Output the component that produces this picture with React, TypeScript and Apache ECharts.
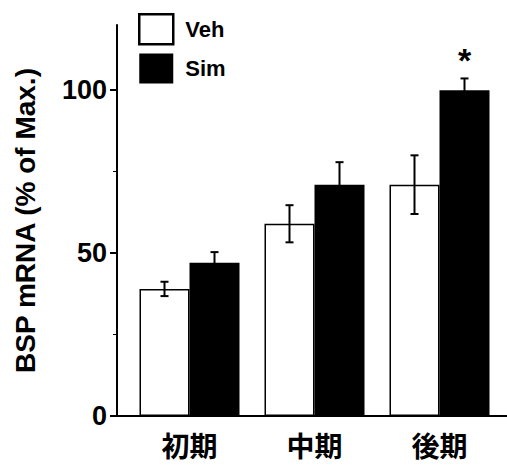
import React, { useEffect, useRef } from "react";
import * as echarts from "echarts";

const categories = ["初期", "中期", "後期"];
const vehMean = [39, 59, 71];
const vehErr = [2.2, 5.7, 9];
const simMean = [47, 71, 100];
const simErr = [3.3, 6.9, 3.6];
const significance = ["", "", "*"];
const yTickValues = [0, 50, 100];
const yMinorTickValues = [25, 75];

const LATIN = "'Liberation Sans', Arial, Helvetica, sans-serif";
const CJK = "'Noto Sans CJK JP', 'Noto Sans CJK SC', sans-serif";

export default function App() {
  const ref = useRef<HTMLDivElement>(null);
  useEffect(() => {
    if (!ref.current) return;
    const chart = echarts.init(ref.current, null, { renderer: "svg" });

    const errData: number[][] = [];
    categories.forEach((_, i) => {
      errData.push([i, vehMean[i], vehErr[i], -1]);
      errData.push([i, simMean[i], simErr[i], 1]);
    });

    const option: any = {
      animation: false,
      backgroundColor: "#ffffff",
      grid: { left: 127, right: 5, top: 25, bottom: 49, containLabel: false },
      legend: {
        orient: "vertical",
        left: 138,
        top: 13,
        padding: 0,
        itemWidth: 34,
        itemHeight: 30,
        itemGap: 8,
        icon: "rect",
        textStyle: {
          fontFamily: LATIN,
          fontWeight: "bold",
          fontSize: 22,
          color: "#000",
          padding: [0, 0, 0, 7],
        },
        data: [
          { name: "Veh", itemStyle: { color: "#fff", borderColor: "#000", borderWidth: 2.5 } },
          { name: "Sim", itemStyle: { color: "#000", borderColor: "#000", borderWidth: 0 } },
        ],
      },
      xAxis: [
        {
          type: "category",
          data: categories,
          axisLine: { show: false },
          axisTick: { show: false },
          axisLabel: {
            margin: 15,
            fontFamily: CJK,
            fontWeight: "bold",
            fontSize: 28,
            lineHeight: 28,
            color: "#000",
          },
        },
      ],
      yAxis: [
        {
          type: "value",
          min: 0,
          max: 120,
          interval: 50,
          offset: 10,
          splitLine: { show: false },
          axisLine: { show: true, lineStyle: { color: "#000", width: 2 } },
          axisTick: {
            show: true,
            length: 7,
            customValues: yTickValues,
            lineStyle: { color: "#000", width: 2 },
          },
          axisLabel: {
            customValues: yTickValues,
            margin: 10,
            fontFamily: LATIN,
            fontWeight: "bold",
            fontSize: 27,
            color: "#000",
          },
          name: "BSP mRNA (% of Max.)",
          nameLocation: "middle",
          nameGap: 78,
          nameTextStyle: {
            fontFamily: LATIN,
            fontWeight: "bold",
            fontSize: 28,
            color: "#000",
          },
        },
        {
          type: "value",
          min: 0,
          max: 120,
          interval: 25,
          offset: 10,
          position: "left",
          splitLine: { show: false },
          axisLine: { show: false },
          axisTick: {
            show: true,
            length: 4,
            customValues: yMinorTickValues,
            lineStyle: { color: "#000", width: 1 },
          },
          axisLabel: { show: false },
        },
      ],
      graphic: [
        {
          type: "line",
          shape: { x1: 117, y1: 416, x2: 507, y2: 416 },
          style: { stroke: "#000", lineWidth: 2 },
          z: 10,
        },
      ],
      series: [
        {
          name: "Veh",
          type: "bar",
          data: vehMean,
          barWidth: 50,
          barGap: "0%",
          itemStyle: { color: "#fff", borderColor: "#000", borderWidth: 1.5 },
        },
        {
          name: "Sim",
          type: "bar",
          data: simMean,
          barWidth: 50,
          barGap: "0%",
          itemStyle: { color: "#000", borderColor: "#000", borderWidth: 0 },
        },
        {
          type: "custom",
          name: "err",
          z: 5,
          data: errData,
          encode: { x: 0, y: 1 },
          renderItem: (params: any, api: any) => {
            const idx = api.value(0);
            const mean = api.value(1);
            const err = api.value(2);
            const side = api.value(3);
            const band = api.size([1, 0])[0];
            const c = api.coord([idx, mean]);
            const x = c[0] + side * band * 0.2;
            const top = api.coord([idx, mean + err])[1];
            const bot = api.coord([idx, mean - err])[1];
            const cap = 4;
            const st = { stroke: "#000", lineWidth: 2 };
            const children: any[] = [
              { type: "line", shape: { x1: x, y1: top, x2: x, y2: bot }, style: st },
              { type: "line", shape: { x1: x - cap, y1: top, x2: x + cap, y2: top }, style: st },
              { type: "line", shape: { x1: x - cap, y1: bot, x2: x + cap, y2: bot }, style: st },
            ];
            if (side > 0 && significance[idx]) {
              children.push({
                type: "text",
                style: {
                  text: significance[idx],
                  x: x,
                  y: top - 18,
                  textAlign: "center",
                  textVerticalAlign: "middle",
                  font: "bold 34px " + LATIN,
                  fill: "#000",
                },
              });
            }
            return { type: "group", children };
          },
        },
      ],
    };
    chart.setOption(option);
    return () => chart.dispose();
  }, []);
  return <div ref={ref} style={{ width: 507, height: 465, position: "absolute", left: 0, top: 0 }} />;
}
